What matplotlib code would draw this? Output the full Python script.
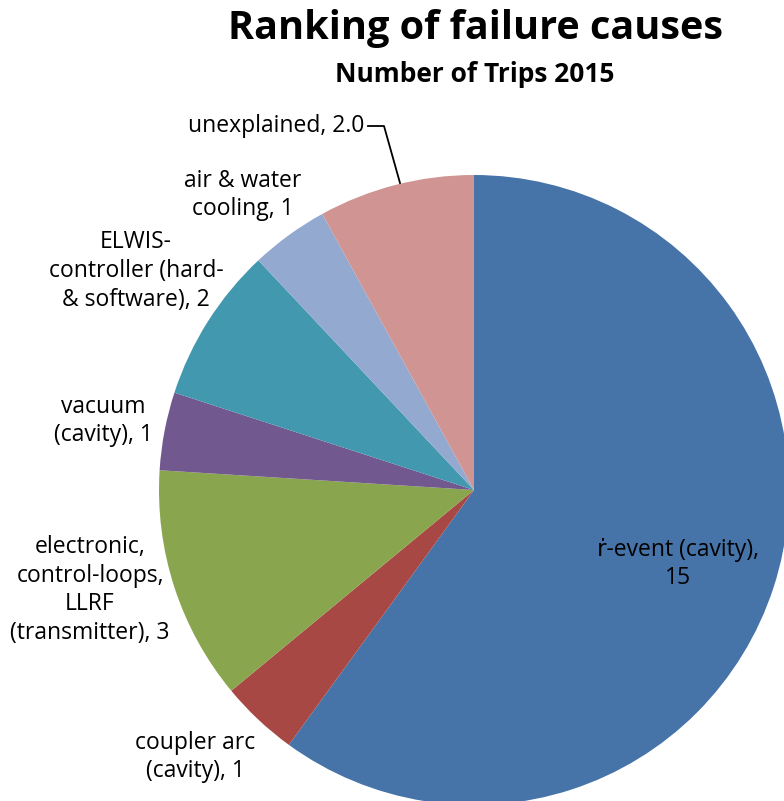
import matplotlib
matplotlib.use("Agg")
import matplotlib.pyplot as plt

# Trip counts per failure cause, 2015
causes = ["ṙ-event (cavity)", "coupler arc\n(cavity)", "electronic,\ncontrol-loops,\nLLRF\n(transmitter)",
          "vacuum\n(cavity)", "ELWIS-\ncontroller (hard-\n& software)", "air & water\ncooling", "unexplained"]
trips = [15, 1, 3, 1, 2, 1, 2]
value_text = ["15", "1", "3", "1", "2", "1", "2.0"]
colors = ["#4673A8", "#A84845", "#89A54E", "#71588F", "#4198AF", "#93A9CF", "#D09493"]

# label anchors in pixel units relative to the pie centre
label_pos = [(204, -74), (-279, -267), (-384, -100), (-371, 69), (-338, 219), (-231, 295), (-110, 364)]
label_text = ["ṙ-event (cavity),\n15", "coupler arc\n(cavity), 1",
              "electronic,\ncontrol-loops,\nLLRF\n(transmitter), 3",
              "vacuum\n(cavity), 1", "ELWIS-\ncontroller (hard-\n& software), 2",
              "air & water\ncooling, 1", "unexplained, 2.0"]

plt.rcParams["font.family"] = ["Open Sans", "DejaVu Sans"]

W, H = 784, 801
cx, cy = 474, 490
fig = plt.figure(figsize=(W / 100, H / 100), dpi=100)
ax = fig.add_axes([0, 0, 1, 1])

ax.pie(trips, colors=colors, startangle=90, counterclock=False, radius=315,
       center=(0, 0), frame=True, wedgeprops=dict(linewidth=0))
ax.set_xlim(-cx, W - cx)
ax.set_ylim(-(H - cy), cy)
ax.set_aspect("equal")
ax.axis("off")

for i, (txt, (x, y)) in enumerate(zip(label_text, label_pos)):
    ha = "right" if i == len(label_text) - 1 else "center"
    ax.text(x, y, txt, ha=ha, va="center", fontsize=16.5, color="black",
            linespacing=1.25)

# leader line for the last label
ax.plot([-106, -90, -74], [364, 364, 307], color="black", lw=1.3)

fig.text(475 / W, 1 - 28 / H, "Ranking of failure causes", ha="center", va="center",
         fontsize=28.5, fontweight="bold")
fig.text(475 / W, 1 - 75 / H, "Number of Trips 2015", ha="center", va="center",
         fontsize=19, fontweight="bold")

fig.savefig("out.png", dpi=100)
